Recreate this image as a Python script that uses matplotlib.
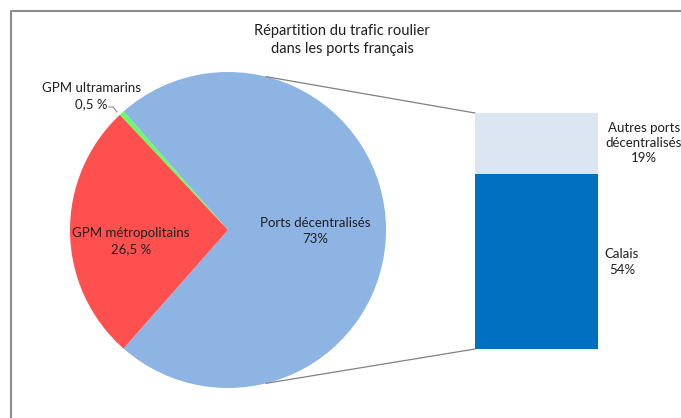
import numpy as np
import matplotlib.pyplot as plt

plt.rcParams['font.family'] = ['Lato', 'DejaVu Sans']

# pie: the first slice is split into the bar on the right
pie_labels = ['Ports décentralisés', 'GPM ultramarins', 'GPM métropolitains']
pie_values = [73, 0.5, 26.5]
pie_texts = ['73%', '0,5 %', '26,5 %']
pie_colors = ['#8EB4E3', '#66FF66', '#FF5050']

bar_labels = ['Calais', 'Autres ports\ndécentralisés']
bar_values = [54, 19]
bar_texts = ['54%', '19%']
bar_colors = ['#0070C0', '#DCE6F2']

title = 'Répartition du trafic roulier\ndans les ports français'

W, H = 681, 418
fig = plt.figure(figsize=(W / 100, H / 100), dpi=100)
ax = fig.add_axes([0, 0, 1, 1])

txt = '#1f1f1f'

cx, cy, r = 228, H - 230, 158
start = -pie_values[0] / 100 * 360 / 2
ax.pie(pie_values, colors=pie_colors, startangle=start, radius=r,
       center=(cx, cy), counterclock=True, frame=True,
       wedgeprops=dict(linewidth=0))
ax.set_xlim(0, W)
ax.set_ylim(0, H)
ax.set_aspect('equal')
ax.axis('off')

# chart frame
ax.plot([11, 11, W + 5], [-5, H - 11, H - 11], color='#8c8c8c', lw=1.5)

ax.text(342, H - 40, title, ha='center', va='center', fontsize=10.5,
        color=txt, linespacing=1.45)

ax.text(315, H - 231, f'{pie_labels[0]}\n{pie_texts[0]}', ha='center',
        va='center', fontsize=9.5, color=txt, linespacing=1.4)
ax.text(131, H - 241, f'{pie_labels[2]}\n{pie_texts[2]}', ha='center',
        va='center', fontsize=9.5, color=txt, linespacing=1.4)
ax.text(91, H - 96, f'{pie_labels[1]}\n{pie_texts[1]}', ha='center',
        va='center', fontsize=9.5, color=txt, linespacing=1.4)
ax.plot([109, 113, 117], [H - 107, H - 107, H - 112], color='#8c8c8c', lw=0.8)

# stacked bar
bl, bb, bw, bh = 475, 69, 123, 236
bax = fig.add_axes([bl / W, bb / H, bw / W, bh / H])
bottom = 0
for v, c in zip(bar_values, bar_colors):
    bax.bar(0, v, bottom=bottom, width=1, color=c, linewidth=0)
    bottom += v
bax.set_xlim(-0.5, 0.5)
bax.set_ylim(0, sum(bar_values))
bax.axis('off')

ax.text(622, H - 262, f'{bar_labels[0]}\n{bar_texts[0]}', ha='center',
        va='center', fontsize=9.5, color=txt, linespacing=1.4)
ax.text(644, H - 143, f'{bar_labels[1]}\n{bar_texts[1]}', ha='center',
        va='center', fontsize=9.5, color=txt, linespacing=1.3)

# connector lines
a = np.deg2rad(76)
ax.plot([cx + r * np.cos(a), bl], [cy + r * np.sin(a), bb + bh],
        color='#808080', lw=0.9)
ax.plot([cx + r * np.cos(a), bl], [cy - r * np.sin(a), bb],
        color='#808080', lw=0.9)

fig.savefig('out.png', dpi=100)
